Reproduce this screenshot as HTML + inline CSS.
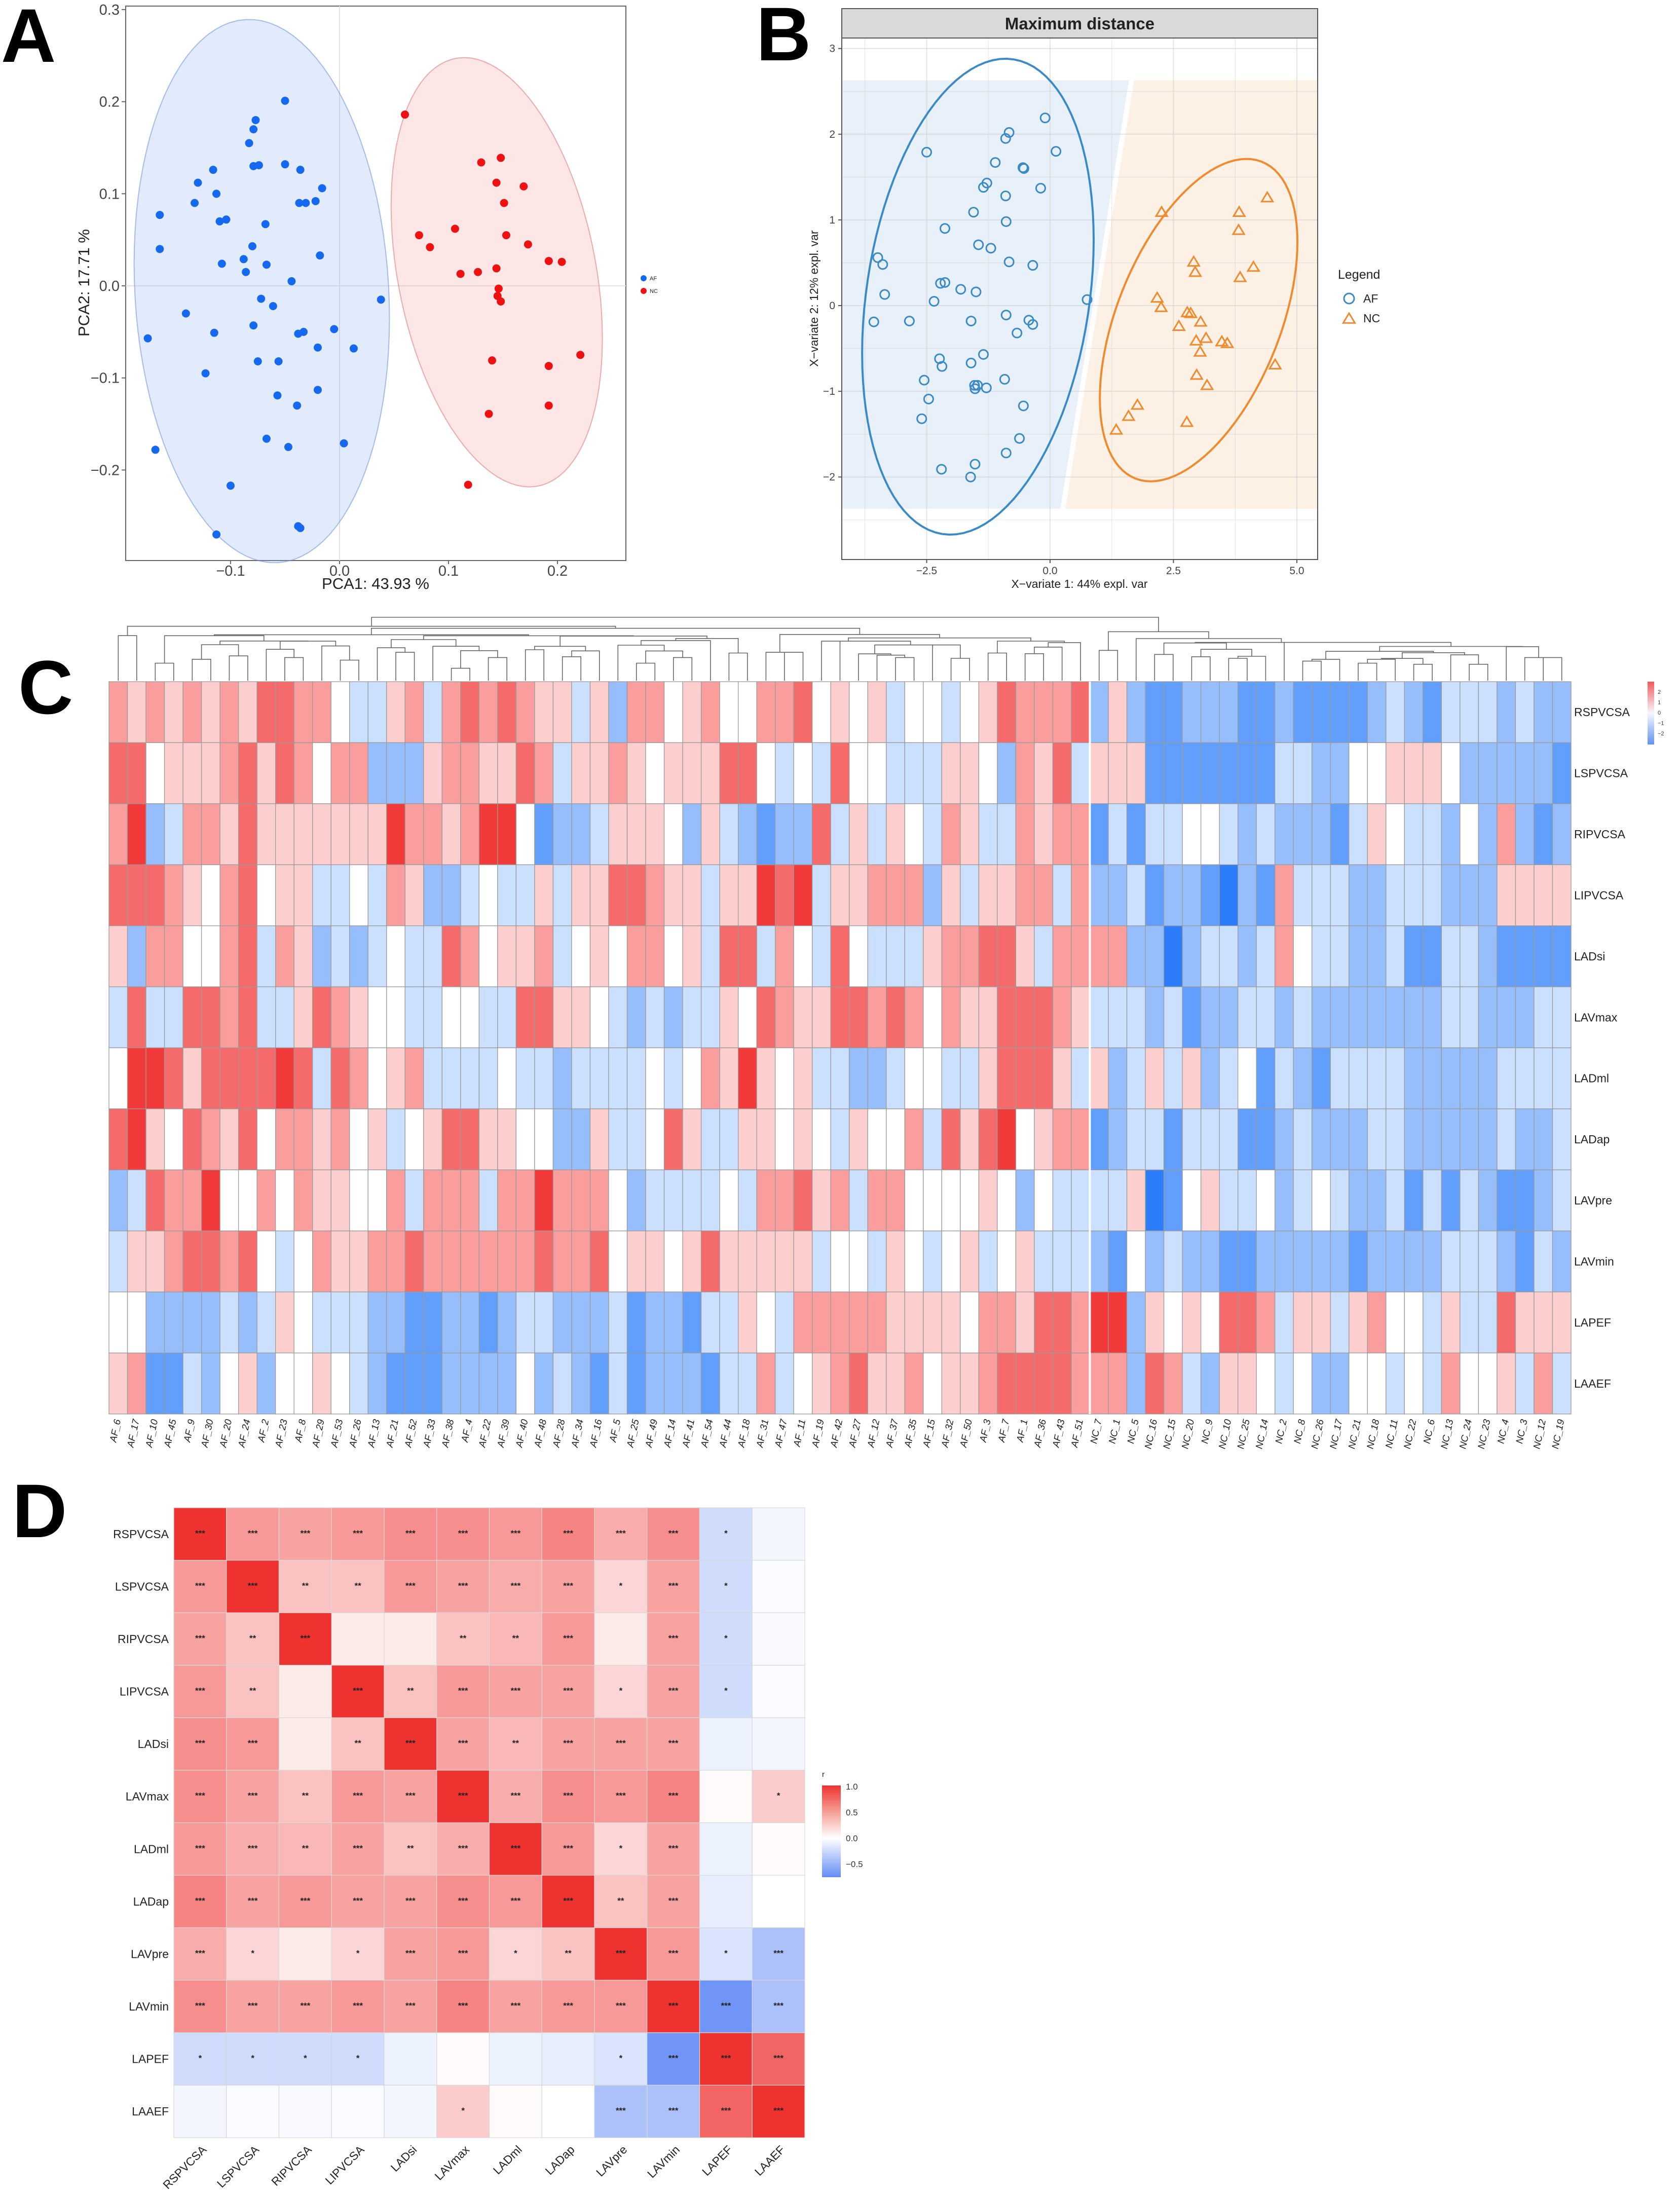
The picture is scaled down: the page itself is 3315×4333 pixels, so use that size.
<!DOCTYPE html>
<html><head><meta charset="utf-8"><title>Figure</title>
<style>html,body{margin:0;padding:0;background:#fff}svg{display:block}text{font-family:"Liberation Sans",Arial,sans-serif}</style>
</head><body>
<svg id="fig" xmlns="http://www.w3.org/2000/svg" width="3315" height="4333" viewBox="0 0 3315 4333">
<rect x="0" y="0" width="3315" height="4333" fill="#fff"/>
<defs>
<linearGradient id="gC" x1="0" y1="0" x2="0" y2="1"><stop offset="0" stop-color="#f25a5a"/><stop offset="0.5" stop-color="#f7f7ff"/><stop offset="1" stop-color="#5f93f0"/></linearGradient>
<linearGradient id="gD" x1="0" y1="0" x2="0" y2="1"><stop offset="0" stop-color="#ee3230"/><stop offset="0.28" stop-color="#f59c93"/><stop offset="0.575" stop-color="#ffffff"/><stop offset="1" stop-color="#648cf5"/></linearGradient>
</defs>
</svg>
<script>
// ---------- DATA: Panel A (PCA) ----------
const pcaAfX = [-0.050,-0.077,-0.079,-0.083,-0.079,-0.074,-0.050,-0.036,-0.116,-0.130,-0.113,-0.133,-0.016,-0.037,-0.031,-0.022,-0.165,-0.110,-0.104,-0.068,-0.165,-0.080,-0.088,-0.108,-0.067,-0.018,-0.086,-0.044,-0.072,-0.061,0.038,-0.141,-0.079,-0.115,-0.038,-0.033,-0.005,-0.176,-0.020,0.013,-0.075,-0.056,-0.123,-0.020,-0.057,-0.039,-0.067,0.004,-0.047,-0.169,-0.100,-0.038,-0.036,-0.113];
const pcaAfY = [0.201,0.180,0.170,0.155,0.130,0.131,0.132,0.126,0.126,0.112,0.100,0.090,0.106,0.090,0.090,0.092,0.077,0.070,0.072,0.067,0.040,0.043,0.029,0.024,0.023,0.033,0.015,0.005,-0.014,-0.022,-0.015,-0.030,-0.043,-0.051,-0.052,-0.050,-0.047,-0.057,-0.067,-0.068,-0.082,-0.082,-0.095,-0.113,-0.119,-0.130,-0.166,-0.171,-0.175,-0.178,-0.217,-0.261,-0.263,-0.270];
const pcaNcX = [0.060,0.130,0.148,0.144,0.169,0.151,0.073,0.106,0.153,0.083,0.173,0.192,0.204,0.111,0.127,0.144,0.146,0.145,0.148,0.140,0.221,0.192,0.192,0.137,0.118];
const pcaNcY = [0.186,0.134,0.139,0.112,0.108,0.090,0.055,0.062,0.055,0.042,0.045,0.027,0.026,0.013,0.015,0.019,-0.003,-0.011,-0.017,-0.081,-0.075,-0.087,-0.130,-0.139,-0.216];
const pcaXTicks = [-0.1,0.0,0.1,0.2];
const pcaXTickLabels = ["\u22120.1","0.0","0.1","0.2"];
const pcaYTicks = [-0.2,-0.1,0.0,0.1,0.2,0.3];
const pcaYTickLabels = ["\u22120.2","\u22120.1","0.0","0.1","0.2","0.3"];

// ---------- DATA: Panel B (PLS-DA) ----------
const plsAfX = [-0.10,-2.50,-0.83,-0.90,0.12,-1.11,-0.55,-0.53,-1.28,-1.35,-0.19,-0.90,-1.55,-0.89,-2.13,-1.45,-1.20,-3.49,-3.39,-0.83,-0.35,-2.22,-2.13,-1.81,-1.50,-3.35,-2.35,0.75,-3.57,-2.85,-1.60,-0.89,-0.43,-0.35,-0.67,-1.35,-2.24,-2.19,-1.60,-2.55,-0.92,-1.53,-1.47,-1.52,-1.29,-2.46,-0.54,-2.60,-0.62,-0.89,-1.52,-2.20,-1.61];
const plsAfY = [2.19,1.79,2.02,1.95,1.80,1.67,1.61,1.60,1.43,1.38,1.37,1.28,1.09,0.98,0.90,0.71,0.67,0.56,0.48,0.51,0.47,0.26,0.27,0.19,0.16,0.13,0.05,0.07,-0.19,-0.18,-0.18,-0.11,-0.17,-0.22,-0.32,-0.57,-0.62,-0.71,-0.67,-0.87,-0.86,-0.93,-0.93,-0.97,-0.96,-1.09,-1.17,-1.32,-1.55,-1.72,-1.85,-1.91,-2.00];
const plsNcX = [4.40,2.26,3.83,3.82,2.91,2.94,4.12,3.85,2.17,2.25,2.78,2.85,3.05,2.61,2.96,3.16,3.48,3.59,3.04,4.56,2.97,3.18,1.77,1.59,2.77,1.34];
const plsNcY = [1.26,1.09,1.09,0.88,0.51,0.39,0.45,0.33,0.09,-0.02,-0.08,-0.09,-0.19,-0.24,-0.41,-0.38,-0.42,-0.44,-0.54,-0.69,-0.81,-0.93,-1.16,-1.29,-1.36,-1.45];
const plsXTicks = [-2.5,0.0,2.5,5.0];
const plsXTickLabels = ["\u22122.5","0.0","2.5","5.0"];
const plsYTicks = [-2,-1,0,1,2,3];
const plsYTickLabels = ["\u22122","\u22121","0","1","2","3"];
const plsRegionY = [-2.37,2.63];
const plsBoundaryX = [0.26,1.65];

// ---------- DATA: Panel C (clustered heatmap, levels -4..4) ----------
const heatRowNames = ["RSPVCSA","LSPVCSA","RIPVCSA","LIPVCSA","LADsi","LAVmax","LADml","LADap","LAVpre","LAVmin","LAPEF","LAAEF"];
const heatColNames = ["AF_6","AF_17","AF_10","AF_45","AF_9","AF_30","AF_20","AF_24","AF_2","AF_23","AF_8","AF_29","AF_53","AF_26","AF_13","AF_21","AF_52","AF_33","AF_38","AF_4","AF_22","AF_39","AF_40","AF_48","AF_28","AF_34","AF_16","AF_5","AF_25","AF_49","AF_14","AF_41","AF_54","AF_44","AF_18","AF_31","AF_47","AF_11","AF_19","AF_42","AF_27","AF_12","AF_37","AF_35","AF_15","AF_32","AF_50","AF_3","AF_7","AF_1","AF_36","AF_43","AF_51","NC_7","NC_1","NC_5","NC_16","NC_15","NC_20","NC_9","NC_10","NC_25","NC_14","NC_2","NC_8","NC_26","NC_17","NC_21","NC_18","NC_11","NC_22","NC_6","NC_13","NC_24","NC_23","NC_4","NC_3","NC_12","NC_19"];
const heatRSPVCSA = [2,1,2,1,2,1,2,1,3,3,2,2,0,-1,-1,1,2,-1,2,3,2,3,2,1,1,-1,1,-2,2,2,0,1,2,0,0,2,2,3,0,1,0,1,-1,0,0,-1,0,1,3,2,2,2,3,-2,1,-2,-3,-3,-2,-2,-2,-3,-3,-2,-3,-3,-3,-3,-2,-1,-2,-3,-1,-1,-1,-2,-1,-2,-2];
const heatLSPVCSA = [3,3,0,1,1,1,2,3,1,3,2,0,2,2,-2,-2,-2,1,2,2,1,1,3,2,-1,1,1,2,1,0,1,1,1,3,3,0,-1,0,-1,3,0,0,-1,-1,-1,1,1,0,-2,2,1,3,-1,1,1,1,-3,-3,-3,-3,-3,-3,-3,-1,-1,-2,-2,0,0,1,1,1,0,-2,-2,-2,-2,-2,-3];
const heatRIPVCSA = [2,4,-2,-1,2,2,1,3,1,1,1,1,1,1,1,4,2,2,1,2,4,4,0,-3,-2,-2,-1,1,1,1,0,-2,1,-1,-2,-3,-2,-2,3,-1,1,-1,1,0,-1,2,1,-1,-1,2,1,2,2,-3,-1,-3,-1,-1,0,0,-1,-2,-1,-2,-2,-2,-3,-1,1,0,-1,-1,-2,0,-2,2,-2,-3,-2];
const heatLIPVCSA = [3,3,3,2,1,0,2,3,0,1,1,-1,-1,0,-1,2,1,-2,-2,-1,0,-1,-1,1,-1,1,1,3,3,2,1,1,-1,1,1,4,3,4,-1,1,1,2,2,2,-2,1,-1,1,1,2,2,-1,2,-2,-2,-1,-3,-2,-2,-3,-4,-2,-3,2,-1,-1,-1,-2,-2,-1,-1,-1,-2,-2,-2,1,1,1,1];
const heatLADsi = [1,-2,2,2,0,0,2,3,-1,2,1,-2,-1,-2,-1,0,-1,-1,3,2,0,1,1,2,-1,0,1,0,2,2,0,1,-1,3,3,-1,2,0,-1,3,0,-1,-1,-1,1,2,2,3,3,1,-1,2,2,2,2,-2,-2,-4,-2,-1,-1,-2,-1,2,0,-1,-1,-2,-2,-1,-3,-3,-1,-1,-2,-3,-3,-3,-3];
const heatLAVmax = [-1,3,-1,-1,3,3,2,3,-1,-1,1,3,2,1,0,0,-1,-1,0,0,-1,-1,3,3,1,1,0,-1,-2,-1,-2,-1,-1,1,0,3,2,1,1,3,3,2,3,2,0,2,1,1,3,3,3,2,1,-1,-1,-1,-2,-1,-3,-2,-2,-1,-1,-2,-1,-2,-2,-2,-2,-2,-2,-2,-1,-1,-2,-2,-2,-1,-1];
const heatLADml = [0,4,4,3,1,3,3,3,3,4,3,-1,3,2,0,1,2,-1,-1,-1,-1,0,-1,-1,-2,-1,-1,-1,-1,0,-1,0,2,1,4,1,0,1,-1,-1,-2,-2,-1,0,0,-1,-1,1,3,3,3,1,-1,1,-2,-1,1,-1,1,-2,-1,0,-3,-1,-2,-3,-1,-1,-1,-1,-2,-2,-2,-2,-2,-1,-1,-1,-1];
const heatLADap = [3,4,1,0,3,2,1,3,0,2,2,1,2,0,1,-1,0,1,3,3,1,1,0,0,-2,-2,1,-1,-1,0,3,1,-1,-1,1,1,0,1,0,-1,1,0,0,2,-1,3,1,3,4,0,1,2,2,-3,-2,-1,-1,-3,-1,-1,-1,-3,-3,-2,-1,-2,-2,-2,-1,-1,-2,-2,-2,-2,-2,-1,-2,-2,-1];
const heatLAVpre = [-2,-1,3,2,2,4,0,0,2,0,2,1,1,0,0,2,-1,2,2,2,-1,2,2,4,2,2,2,0,-2,-1,-1,-1,-1,0,-1,2,2,3,1,2,-1,2,2,0,0,0,0,1,0,-2,0,-1,-1,-1,-1,1,-4,-3,0,1,-1,-1,0,-2,-1,0,-1,-2,-2,-1,-3,-1,-3,-1,-2,-3,-3,-2,-1];
const heatLAVmin = [-1,1,1,2,3,3,2,3,0,-1,0,2,1,1,2,2,3,2,2,2,2,2,2,3,2,2,3,0,1,1,0,1,3,1,1,1,1,1,-1,0,0,-1,1,0,-1,0,1,-1,0,1,-1,-1,-1,-2,-3,0,-2,-1,-2,-2,-3,-3,-2,-2,-2,-2,-2,-3,-2,-2,-2,-2,-1,-1,-1,-2,-3,-1,-2];
const heatLAPEF = [0,0,-2,-2,-2,-2,-1,-2,-1,1,0,-1,-1,-1,-2,-2,-3,-3,-2,-2,-3,-2,-1,-1,-2,-2,-2,-1,-3,-2,-2,-3,-1,-1,1,0,-1,2,2,2,2,2,1,1,1,1,0,2,2,1,3,3,2,4,4,-2,1,0,1,0,3,3,2,-1,1,1,-1,1,2,0,0,-1,1,-1,-1,3,1,1,1];
const heatLAAEF = [1,2,-3,-3,-1,-2,0,1,-2,0,0,1,0,-1,-2,-3,-3,-3,-2,-2,-2,-2,0,-2,-1,-2,-3,-1,-3,-2,-2,-2,-3,-1,-1,2,-1,0,1,2,3,1,1,2,0,1,1,2,3,3,3,3,2,2,2,-2,3,2,-1,-2,1,1,0,-1,0,-2,-2,0,0,-1,0,-1,2,0,0,1,-1,2,-1];
const heatValues = [heatRSPVCSA,heatLSPVCSA,heatRIPVCSA,heatLIPVCSA,heatLADsi,heatLAVmax,heatLADml,heatLADap,heatLAVpre,heatLAVmin,heatLAPEF,heatLAAEF];
const heatSplitIndex = 53;
const heatLegendLabels = ["2","1","0","\u22121","\u22122"];

// ---------- DATA: Panel D (correlation matrix) ----------
const corrNames = ["RSPVCSA","LSPVCSA","RIPVCSA","LIPVCSA","LADsi","LAVmax","LADml","LADap","LAVpre","LAVmin","LAPEF","LAAEF"];
const corrR1 = [1,.5,.45,.5,.55,.55,.5,.6,.4,.55,-.2,-.05];
const corrR2 = [.5,1,.3,.3,.5,.45,.4,.45,.2,.45,-.2,-.02];
const corrR3 = [.45,.3,1,.1,.1,.3,.35,.5,.1,.45,-.2,-.03];
const corrR4 = [.5,.3,.1,1,.3,.5,.45,.45,.2,.45,-.2,-.02];
const corrR5 = [.55,.5,.1,.3,1,.45,.35,.45,.45,.45,-.08,-.05];
const corrR6 = [.55,.45,.3,.5,.45,1,.4,.55,.5,.6,.02,.25];
const corrR7 = [.5,.4,.35,.45,.3,.4,1,.5,.2,.45,-.08,.02];
const corrR8 = [.6,.45,.5,.45,.45,.55,.5,1,.3,.45,-.1,0];
const corrR9 = [.4,.2,.1,.2,.45,.5,.2,.3,1,.5,-.15,-.35];
const corrR10 = [.55,.45,.45,.5,.45,.6,.45,.5,.5,1,-.6,-.35];
const corrR11 = [-.2,-.2,-.2,-.2,-.08,.02,-.08,-.1,-.15,-.6,1,.75];
const corrR12 = [-.05,-.02,-.03,-.02,-.05,.25,.02,0,-.35,-.35,.75,1];
const corrValues = [corrR1,corrR2,corrR3,corrR4,corrR5,corrR6,corrR7,corrR8,corrR9,corrR10,corrR11,corrR12];
const corrStars = [
 ["***","***","***","***","***","***","***","***","***","***","*",""],
 ["***","***","**","**","***","***","***","***","*","***","*",""],
 ["***","**","***","","","**","**","***","","***","*",""],
 ["***","**","","***","**","***","***","***","*","***","*",""],
 ["***","***","","**","***","***","**","***","***","***","",""],
 ["***","***","**","***","***","***","***","***","***","***","","*"],
 ["***","***","**","***","**","***","***","***","*","***","",""],
 ["***","***","***","***","***","***","***","***","**","***","",""],
 ["***","*","","*","***","***","*","**","***","***","*","***"],
 ["***","***","***","***","***","***","***","***","***","***","***","***"],
 ["*","*","*","*","","","","","*","***","***","***"],
 ["","","","","","*","","","***","***","***","***"]];
const corrLegendTicks = [1.0,0.5,0.0,-0.5];
const corrLegendLabels = ["1.0","0.5","0.0","\u22120.5"];

// ---------- helpers ----------
const svg = document.getElementById('fig');
const NS = 'http://www.w3.org/2000/svg';
function mk(tag, attrs, parent){const e=document.createElementNS(NS,tag);for(const k in attrs)e.setAttribute(k,attrs[k]);(parent||svg).appendChild(e);return e;}
function txt(s, attrs, parent){const e=mk('text',attrs,parent);e.textContent=s;return e;}
function group(parent){return mk('g',{},parent);}
function ellipsePts(xs, ys, sx, sy, k){
  const n=xs.length;let mx=0,my=0;for(let i=0;i<n;i++){mx+=xs[i];my+=ys[i];}mx/=n;my/=n;
  let a=0,b=0,c=0;for(let i=0;i<n;i++){const dx=xs[i]-mx,dy=ys[i]-my;a+=dx*dx;b+=dx*dy;c+=dy*dy;}
  a/=(n-1);b/=(n-1);c/=(n-1);
  const l11=Math.sqrt(a),l21=b/l11,l22=Math.sqrt(Math.max(c-l21*l21,1e-12));
  const pts=[];for(let t=0;t<=100;t++){const th=t/100*2*Math.PI;const u=Math.cos(th)*k,v=Math.sin(th)*k;
    pts.push(sx(mx+l11*u).toFixed(1)+','+sy(my+l21*u+l22*v).toFixed(1));}
  return pts.join(' ');
}
function letter(s,x,y,name){const t=txt(s,{x:x,y:y,'font-family':'"Liberation Serif",serif','font-weight':'bold','font-size':150,fill:'#000'});
  }

// ---------- Panel A ----------
const gA = group();  
letter('A',2,122,'panel-a-label');
const xA = v => 670 + v*2150, yA = v => 564 - v*1817;
const aT=12,aB=1106;
const frA = mk('rect',{x:248,y:aT,width:987,height:aB-aT,fill:'#fff',stroke:'#666','stroke-width':2},gA);
 
mk('line',{x1:xA(0),x2:xA(0),y1:aT,y2:aB,stroke:'#e3e3e3','stroke-width':2},gA);
mk('line',{x1:248,x2:1235,y1:yA(0),y2:yA(0),stroke:'#e3e3e3','stroke-width':2},gA);
const eAf=mk('polygon',{points:ellipsePts(pcaAfX,pcaAfY,xA,yA,2.448),fill:'rgba(140,175,240,0.25)',stroke:'rgba(100,140,225,0.55)','stroke-width':2},gA);
 
const eNc=mk('polygon',{points:ellipsePts(pcaNcX,pcaNcY,xA,yA,2.448),fill:'rgba(245,140,140,0.22)',stroke:'rgba(225,110,110,0.55)','stroke-width':2},gA);
 
pcaAfX.forEach((v,i)=>{const c=mk('circle',{cx:xA(v),cy:yA(pcaAfY[i]),r:8,fill:'#1469f0'},gA);
   });
pcaNcX.forEach((v,i)=>{const c=mk('circle',{cx:xA(v),cy:yA(pcaNcY[i]),r:8,fill:'#ee1111'},gA);
   });
pcaXTicks.forEach((v,i)=>{mk('line',{x1:xA(v),x2:xA(v),y1:aB,y2:aB+7,stroke:'#666','stroke-width':2},gA);
  const t=txt(pcaXTickLabels[i],{x:xA(v),y:1136,'text-anchor':'middle','font-size':29,fill:'#444'},gA);
   });
pcaYTicks.forEach((v,i)=>{mk('line',{x1:240,x2:248,y1:yA(v),y2:yA(v),stroke:'#666','stroke-width':2},gA);
  const t=txt(pcaYTickLabels[i],{x:236,y:yA(v)+10,'text-anchor':'end','font-size':29,fill:'#444'},gA);
   });
let t0=txt('PCA1: 43.93 %',{x:741,y:1162,'text-anchor':'middle','font-size':31,fill:'#222'},gA);
 
t0=txt('PCA2: 17.71 %',{x:0,y:0,transform:'translate(176,558) rotate(-90)','text-anchor':'middle','font-size':31,fill:'#222'},gA);
 
let lg=mk('circle',{cx:1270,cy:549,r:6,fill:'#1469f0'},gA);  
lg=txt('AF',{x:1282,y:553,'font-size':11,fill:'#222'},gA);  
lg=mk('circle',{cx:1270,cy:574,r:6,fill:'#ee1111'},gA);  
lg=txt('NC',{x:1282,y:578,'font-size':11,fill:'#222'},gA);  

// ---------- Panel B ----------
const gB = group();  
letter('B',1492,119,'panel-b-label');
const xB = v => 2072 + v*97.4, yB = v => 603 - v*169.1;
const bL=1661,bR=2600,bT=75,bBt=1104;
let r=mk('rect',{x:bL,y:17,width:bR-bL,height:bT-17,fill:'#d9d9d9',stroke:'#555','stroke-width':2},gB);
 
r=txt('Maximum distance',{x:(bL+bR)/2,y:58,'text-anchor':'middle','font-size':33,'font-weight':'bold',fill:'#222'},gB);
 
mk('rect',{x:bL,y:bT,width:bR-bL,height:bBt-bT,fill:'#fff'},gB);
const yTopR=yB(plsRegionY[1]), yBotR=yB(plsRegionY[0]);
r=mk('polygon',{points:`${bL},${yTopR} ${xB(plsBoundaryX[1])-5},${yTopR} ${xB(plsBoundaryX[0])-5},${yBotR} ${bL},${yBotR}`,fill:'#e8f0f9'},gB);
 
r=mk('polygon',{points:`${xB(plsBoundaryX[1])+5},${yTopR} ${bR},${yTopR} ${bR},${yBotR} ${xB(plsBoundaryX[0])+5},${yBotR}`,fill:'#fdf0e4'},gB);
 
for(let v=-3.75; v<=5.5; v+=1.25){const major=Math.abs((v/2.5)-Math.round(v/2.5))<1e-6;const X=xB(v);if(X<bL||X>bR)continue;
  mk('line',{x1:X,x2:X,y1:bT,y2:bBt,stroke:'rgba(205,205,205,0.55)','stroke-width':major?2:1},gB);}
for(let v=-2.5; v<=3.01; v+=0.5){const major=Math.abs(v-Math.round(v))<1e-6;const Y=yB(v);if(Y<bT||Y>bBt)continue;
  mk('line',{x1:bL,x2:bR,y1:Y,y2:Y,stroke:'rgba(205,205,205,0.55)','stroke-width':major?2:1},gB);}
mk('rect',{x:bL,y:bT,width:bR-bL,height:bBt-bT,fill:'none',stroke:'#555','stroke-width':2},gB);
r=mk('polygon',{points:ellipsePts(plsAfX,plsAfY,xB,yB,2.448),fill:'none',stroke:'#3a8ac6','stroke-width':4},gB);
 
r=mk('polygon',{points:ellipsePts(plsNcX,plsNcY,xB,yB,2.448),fill:'none',stroke:'#f08a2e','stroke-width':4},gB);
 
plsAfX.forEach((v,i)=>{const c=mk('circle',{cx:xB(v),cy:yB(plsAfY[i]),r:9,fill:'none',stroke:'#3a8ac6','stroke-width':3},gB);
   });
function tri(cx,cy,s){return `${cx},${cy-s} ${cx-s*1.05},${cy+s*0.75} ${cx+s*1.05},${cy+s*0.75}`;}
plsNcX.forEach((v,i)=>{const p=mk('polygon',{points:tri(xB(v),yB(plsNcY[i]),10.5),fill:'none',stroke:'#f08a2e','stroke-width':3},gB);
   });
plsXTicks.forEach((v,i)=>{mk('line',{x1:xB(v),x2:xB(v),y1:bBt,y2:bBt+7,stroke:'#555','stroke-width':2},gB);
  const t=txt(plsXTickLabels[i],{x:xB(v),y:1133,'text-anchor':'middle','font-size':21,fill:'#444'},gB);
   });
plsYTicks.forEach((v,i)=>{mk('line',{x1:bL-7,x2:bL,y1:yB(v),y2:yB(v),stroke:'#555','stroke-width':2},gB);
  const t=txt(plsYTickLabels[i],{x:1648,y:yB(v)+7,'text-anchor':'end','font-size':21,fill:'#444'},gB);
   });
t0=txt('X\u2212variate 1: 44% expl. var',{x:2130,y:1160,'text-anchor':'middle','font-size':23,fill:'#222'},gB);
 
t0=txt('X\u2212variate 2: 12% expl. var',{x:0,y:0,transform:'translate(1614,589) rotate(-90)','text-anchor':'middle','font-size':23,fill:'#222'},gB);
 
t0=txt('Legend',{x:2640,y:550,'font-size':25,fill:'#222'},gB);  
t0=mk('circle',{cx:2662,cy:589,r:10,fill:'none',stroke:'#3a8ac6','stroke-width':3},gB);  
t0=txt('AF',{x:2690,y:597,'font-size':23,fill:'#222'},gB);  
t0=mk('polygon',{points:tri(2662,629,11),fill:'none',stroke:'#f08a2e','stroke-width':3},gB);  
t0=txt('NC',{x:2690,y:636,'font-size':23,fill:'#222'},gB);  

// ---------- Panel C ----------
const gC = group();  
letter('C',36,1408,'panel-c-label');
const hmL=215,hmR=3100,hmT=1345,hmB=2790;
const nCol=heatColNames.length,nRow=heatRowNames.length;
const colW=(hmR-hmL)/nCol,rowH=(hmB-hmT)/nRow;
const xC = j => hmL + j*colW, yC = i => hmT + i*rowH;
function heatColor(v){const t=Math.min(1,Math.abs(v)/4);
  if(v>=0) return `rgb(${Math.round(255-t*(255-242))},${Math.round(255-t*(255-58))},${Math.round(255-t*(255-58))})`;
  return `rgb(${Math.round(255-t*(255-45))},${Math.round(255-t*(255-125))},${Math.round(255-t*(255-250))})`;}
heatValues.forEach((row,i)=>{row.forEach((v,j)=>{
  const c=mk('rect',{x:xC(j),y:yC(i),width:colW,height:rowH,fill:heatColor(v),stroke:'#9a9a9a','stroke-width':1.3},gC);
   });});
mk('line',{x1:xC(heatSplitIndex),x2:xC(heatSplitIndex),y1:hmT,y2:hmB,stroke:'#fff','stroke-width':4},gC);
heatRowNames.forEach((n,i)=>{const t=txt(n,{x:3106,y:yC(i)+rowH/2+8,'font-size':23,fill:'#222'},gC);
   });
heatColNames.forEach((n,j)=>{const cx=xC(j)+colW/2+5;
  const t=txt(n,{x:cx,y:hmB+12,transform:`rotate(-78 ${cx} ${hmB+12})`,'text-anchor':'end','font-size':19,'font-style':'italic',fill:'#222'},gC);
   });
(function(){
  const D=[];for(let a=0;a<nCol;a++){D.push([]);for(let b=0;b<nCol;b++){let s=0;for(let i=0;i<nRow;i++){const d=heatValues[i][a]-heatValues[i][b];s+=d*d;}D[a].push(Math.sqrt(s));}}
  let cl=[];for(let j=0;j<nCol;j++)cl.push({m:[j],x:xC(j)+colW/2,h:0});
  const merges=[];
  while(cl.length>1){let best=-1,bd=1e9;
    for(let k=0;k<cl.length-1;k++){let s=0;for(const a of cl[k].m)for(const b of cl[k+1].m)s+=D[a][b];s/=cl[k].m.length*cl[k+1].m.length;if(s<bd){bd=s;best=k;}}
    const A=cl[best],B=cl[best+1];const h=Math.max(bd,A.h,B.h);
    merges.push({xa:A.x,ha:A.h,xb:B.x,hb:B.h,h:h});
    cl.splice(best,2,{m:A.m.concat(B.m),x:(A.x+B.x)/2,h:h});}
  const maxH=merges.reduce((m,q)=>Math.max(m,q.h),0);
  const yD=h=>hmT-2-h/maxH*125;
  const gd=group(gC);  
  let d='';merges.forEach(q=>{d+=`M${q.xa.toFixed(1)},${yD(q.ha).toFixed(1)}V${yD(q.h).toFixed(1)}H${q.xb.toFixed(1)}V${yD(q.hb).toFixed(1)}`;});
  mk('path',{d:d,fill:'none',stroke:'#666','stroke-width':1.6},gd);
})();
r=mk('rect',{x:3251,y:1345,width:13,height:124,fill:'url(#gC)'},gC);  
heatLegendLabels.forEach((s,i)=>{const t=txt(s,{x:3271,y:1369+i*20.5,'font-size':11,fill:'#333'},gC);
   });

// ---------- Panel D ----------
const gD = group();  
letter('D',24,3033,'panel-d-label');
const dL=343,dT=2975,dR=1588,dB=4218;const nD=corrNames.length;
const cw=(dR-dL)/nD,ch=(dB-dT)/nD;
const xD=j=>dL+j*cw,yDd=i=>dT+i*ch;
function corrColor(v){if(v>=0){const t=Math.min(1,v);return `rgb(${Math.round(255-t*(255-238))},${Math.round(255-t*(255-50))},${Math.round(255-t*(255-48))})`;}
  const t=Math.min(1,-v/0.65);return `rgb(${Math.round(255-t*(255-100))},${Math.round(255-t*(255-140))},${Math.round(255-t*(255-245))})`;}
corrValues.forEach((row,i)=>{row.forEach((v,j)=>{
  const c=mk('rect',{x:xD(j),y:yDd(i),width:cw,height:ch,fill:corrColor(v),stroke:'#d8d8d8','stroke-width':1.2},gD);
   
  if(corrStars[i][j]){const s=txt(corrStars[i][j],{x:xD(j)+cw/2,y:yDd(i)+ch/2+4,'text-anchor':'middle','font-size':17,'font-weight':'bold',fill:'#222'},gD);
     }});});
corrNames.forEach((n,i)=>{const t=txt(n,{x:333,y:yDd(i)+ch/2+8,'text-anchor':'end','font-size':23,fill:'#222'},gD);
   
  const cx=xD(i)+cw/2+14;
  const u=txt(n,{x:cx,y:4243,transform:`rotate(-45 ${cx} 4243)`,'text-anchor':'end','font-size':23,fill:'#222'},gD);
   });
r=mk('rect',{x:1622,y:3523,width:37,height:181,fill:'url(#gD)'},gD);  
r=txt('r',{x:1622,y:3506,'font-size':15,fill:'#222'},gD);  
const yLeg=v=>3525+(1-v)*102;
corrLegendTicks.forEach((v,i)=>{const t=txt(corrLegendLabels[i],{x:1669,y:yLeg(v)+6,'font-size':17,fill:'#333'},gD);
   });
</script>
</body></html>
